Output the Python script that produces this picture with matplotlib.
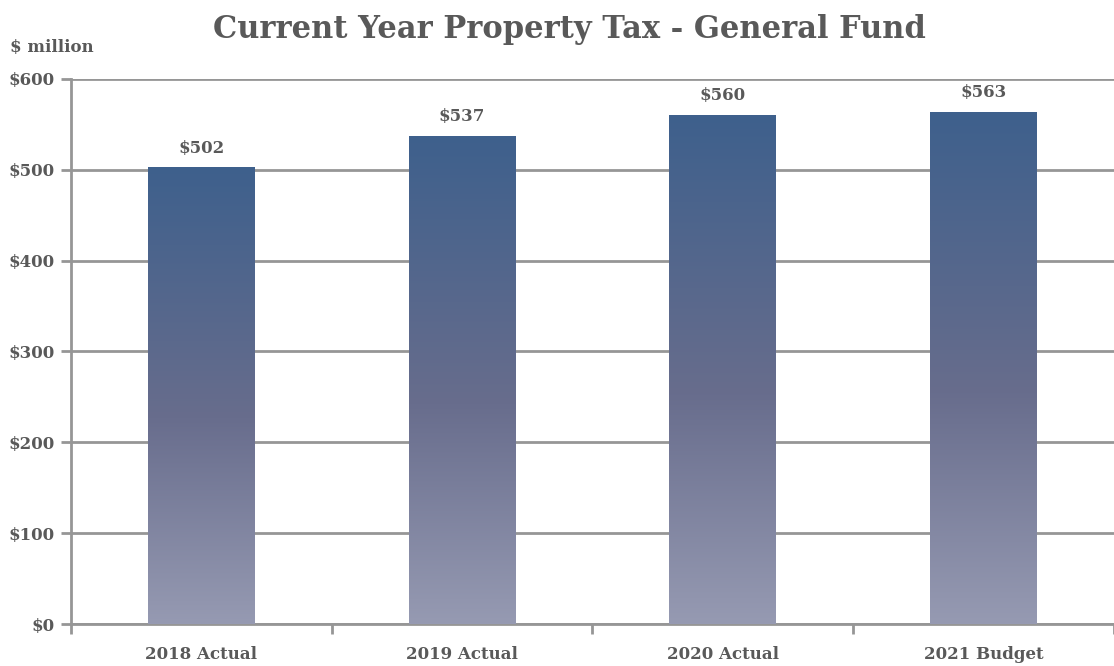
#!/usr/bin/env python3
"""Current year property tax bar chart with gradient-filled bars."""

import matplotlib
matplotlib.use("Agg")
import matplotlib.pyplot as plt
import numpy as np
from matplotlib.colors import LinearSegmentedColormap

categories = ["2018 Actual", "2019 Actual", "2020 Actual", "2021 Budget"]
values = [502, 537, 560, 563]
y_ticks = [0, 100, 200, 300, 400, 500, 600]

TEXT = "#595959"
GRID = "#969696"
FONT = ["DejaVu Serif"]

plt.rcParams["font.family"] = FONT
plt.rcParams["font.weight"] = "bold"

grad = LinearSegmentedColormap.from_list(
    "bar_grad",
    [(0.0, (150 / 255, 154 / 255, 178 / 255)),
     (0.45, (104 / 255, 109 / 255, 141 / 255)),
     (1.0, (62 / 255, 96 / 255, 140 / 255))],
)

fig = plt.figure(figsize=(11.14, 6.66), dpi=100)
ax = fig.add_axes([0.0637, 0.063, 0.9363, 0.8185])

x = np.arange(len(categories))
width = 0.41
ramp = np.linspace(0, 1, 256).reshape(-1, 1)
for xi, v in zip(x, values):
    ax.imshow(ramp, cmap=grad, origin="lower", aspect="auto",
              extent=(xi - width / 2, xi + width / 2, 0, v), zorder=3)
    ax.annotate(f"${v}", xy=(xi, v), xytext=(0, 8), textcoords="offset points",
                ha="center", va="bottom", fontsize=12, color=TEXT, fontweight="bold")

ax.set_xlim(-0.5, len(categories) - 0.5)
ax.set_ylim(0, 600)
ax.set_yticks(y_ticks)
ax.set_yticklabels([f"${t}" for t in y_ticks])
ax.set_xticks(x)
ax.set_xticklabels(categories)
ax.set_xticks(np.arange(-0.5, len(categories)), minor=True)

ax.grid(True, axis="y", color=GRID, linewidth=2, zorder=1)
ax.set_axisbelow(True)
for side in ("top", "right"):
    ax.spines[side].set_visible(False)
for side in ("left", "bottom"):
    ax.spines[side].set_color(GRID)
    ax.spines[side].set_linewidth(2)

ax.tick_params(axis="y", length=7, width=2, color=GRID, labelsize=12,
               labelcolor=TEXT, pad=5)
ax.tick_params(axis="x", which="major", length=0, labelsize=12,
               labelcolor=TEXT, pad=16)
ax.tick_params(axis="x", which="minor", length=7, width=2, color=GRID)

fig.text(0.511, 0.956, "Current Year Property Tax - General Fund", ha="center",
         va="center", fontsize=22, color=TEXT, fontweight="bold")
fig.text(0.009, 0.929, "$ million", ha="left", va="center", fontsize=12,
         color=TEXT, fontweight="bold")

fig.savefig("out.png", dpi=100)
